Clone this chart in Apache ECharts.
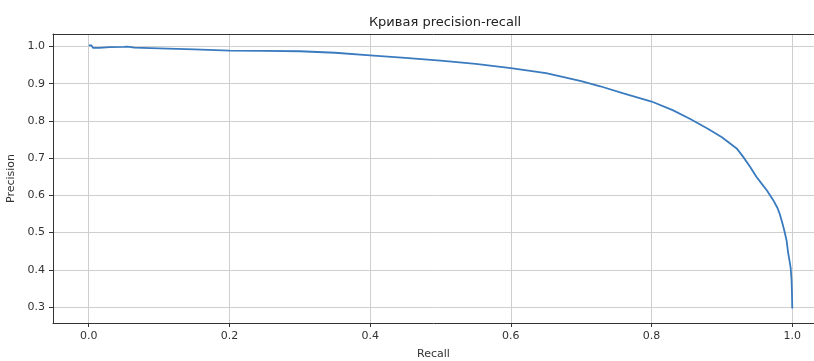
<!DOCTYPE html>
<html><head><meta charset="utf-8">
<script src="https://cdn.jsdelivr.net/npm/echarts@6/dist/echarts.min.js"></script>
<style>html,body{margin:0;padding:0;background:#fff}#c{width:814px;height:361px}</style>
</head><body><div id="c"></div>
<script>
const recall = [0.000,0.004,0.006,0.015,0.03,0.05,0.055,0.065,0.1,0.15,0.2,0.25,0.3,0.35,0.4,0.45,0.5,0.55,0.6,0.65,0.7,0.727,0.76,0.8,0.83,0.855,0.88,0.90,0.921,0.930,0.940,0.949,0.957,0.964,0.973,0.979,0.982,0.986,0.989,0.992,0.994,0.996,0.9977,0.999,0.9996,1.0];
const precision = [1.003,1.003,0.996,0.996,0.998,0.999,0.9995,0.997,0.995,0.992,0.989,0.988,0.987,0.983,0.976,0.969,0.962,0.953,0.942,0.928,0.907,0.893,0.874,0.852,0.829,0.805,0.779,0.756,0.726,0.704,0.677,0.650,0.630,0.613,0.587,0.566,0.551,0.525,0.503,0.478,0.447,0.425,0.406,0.372,0.335,0.296];
const xTicks = [0.0,0.2,0.4,0.6,0.8,1.0];
const yTicks = [0.3,0.4,0.5,0.6,0.7,0.8,0.9,1.0];
const title = 'Кривая precision-recall';
const xName = 'Recall', yName = 'Precision';

const font = '"DejaVu Sans",sans-serif';
const chart = echarts.init(document.getElementById('c'));
const spine = {color:'#333',width:1};
chart.setOption({
  animation:false,
  title:{text:title,left:440,top:11,textAlign:'center',textStyle:{fontFamily:font,fontSize:13,fontWeight:'normal',color:'#222'}},
  grid:{left:53,right:0,top:34,bottom:38,show:false,outerBoundsMode:'none',containLabel:false},
  xAxis:[{
    type:'value',min:-0.0508,max:1.0309,
    name:xName,nameLocation:'middle',nameGap:26,
    nameTextStyle:{fontFamily:font,fontSize:11,color:'#333'},
    axisLine:{show:true,onZero:false,lineStyle:spine},
    axisTick:{show:true,length:4,lineStyle:spine,customValues:xTicks},
    splitLine:{show:true,lineStyle:{color:'#cfcfcf',width:1}},
    axisLabel:{customValues:xTicks,formatter:v=>v.toFixed(1),fontFamily:font,fontSize:11,color:'#333',margin:8}
  },{
    type:'value',position:'top',min:-0.0508,max:1.0309,
    axisLine:{show:true,onZero:false,lineStyle:spine},
    axisTick:{show:false},axisLabel:{show:false},splitLine:{show:false}
  }],
  yAxis:{
    type:'value',min:0.257,max:1.0334,
    name:yName,nameLocation:'middle',nameGap:33,
    nameTextStyle:{fontFamily:font,fontSize:11,color:'#333'},
    axisLine:{show:true,onZero:false,lineStyle:spine},
    axisTick:{show:true,length:4,lineStyle:spine,customValues:yTicks},
    splitLine:{show:true,lineStyle:{color:'#cfcfcf',width:1}},
    axisLabel:{customValues:yTicks,formatter:v=>v.toFixed(1),fontFamily:font,fontSize:11,color:'#333',margin:8}
  },
  series:[{
    type:'line',
    xAxisIndex:0,
    data:recall.map((r,i)=>[r,precision[i]]),
    showSymbol:false,
    lineStyle:{color:'#3a7bbf',width:1.8},
    smooth:false
  }]
});
</script></body></html>
